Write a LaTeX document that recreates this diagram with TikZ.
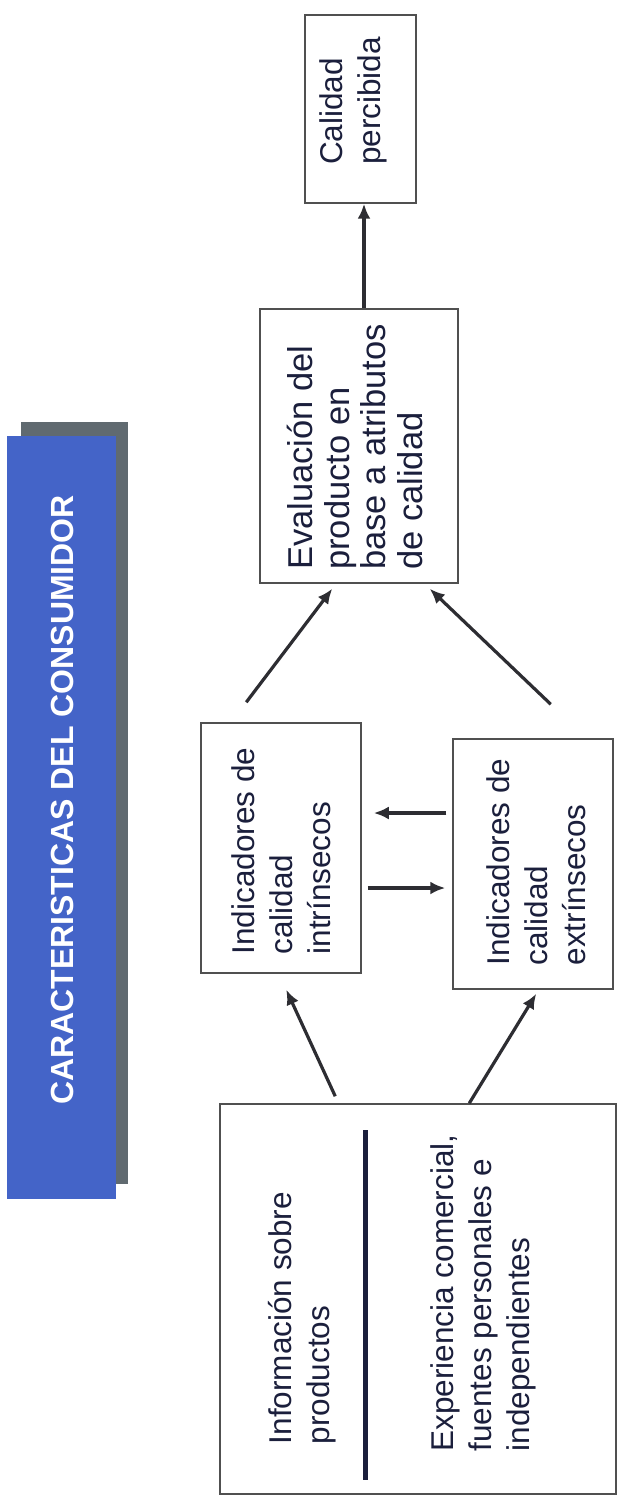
\documentclass[tikz,border=0pt]{standalone}
\usepackage{fontspec}
\setmainfont{Liberation Sans}
\usetikzlibrary{arrows.meta}
\definecolor{inkblue}{RGB}{27,31,60}
\definecolor{boxline}{RGB}{80,80,80}
\definecolor{arrowgray}{RGB}{45,45,50}
\definecolor{bannerblue}{RGB}{68,100,200}
\definecolor{bannershade}{RGB}{96,106,112}
\tikzset{
  frame/.style={draw=boxline, line width=1.5pt, fill=white, inner sep=0pt},
  label/.style={text=inkblue, rotate=90, align=left, inner sep=0pt,
    font=\fontsize{31.5}{38}\selectfont},
  bigl/.style={label, font=\fontsize{34.5}{36.5}\selectfont},
  conn/.style={draw=arrowgray, line width=3.2pt,
    -{Latex[length=15pt,width=13pt]}},
}
\begin{document}
\begin{tikzpicture}[x=1pt,y=-1pt]
\path[use as bounding box, fill=white] (0,0) rectangle (621,1503);

% side banner with its shadow
\node[fill=bannershade, minimum width=107pt, minimum height=762pt, inner sep=0pt] (shade) at (74.5,803) {};
\node[fill=bannerblue, minimum width=109pt, minimum height=763pt, inner sep=0pt] (banner) at (61.5,817.5) {};
\node[text=white, rotate=90, inner sep=0pt, font=\bfseries\fontsize{32}{36}\selectfont] (bannertext) at (62,800) {CARACTERISTICAS DEL CONSUMIDOR};

% boxes
\node[frame, minimum width=111pt, minimum height=188pt] (cal) at (360.5,109) {};
\node[frame, minimum width=198pt, minimum height=274pt] (eval) at (359,446) {};
\node[frame, minimum width=160pt, minimum height=250pt] (intr) at (281,848) {};
\node[frame, minimum width=160pt, minimum height=250pt] (extr) at (533,864) {};
\node[frame, minimum width=396pt, minimum height=390pt] (info) at (418,1299) {};

% box texts
\node[label] (calT) at (353,101) {Calidad\\percibida};
\node[bigl] (evalT) at (355,447) {Evaluación del\\producto en\\base a atributos\\de calidad};
\node[label] (intrT) at (281,851) {Indicadores de\\calidad\\intrínsecos};
\node[label] (extrT) at (536,862) {Indicadores de\\calidad\\extrínsecos};
\node[label] (infoA) at (302,1318) {Información sobre\\productos};
\node[label] (infoB) at (483,1293) {Experiencia comercial,\\fuentes personales e\\independientes};

% divider inside the information box
\coordinate (divtop) at (365,1130);
\coordinate (divbot) at (365,1480);
\draw[draw=inkblue, line width=5pt] (divtop) -- (divbot);

% connectors
\draw[conn] ([xshift=5pt]eval.north) -- ([xshift=5pt]eval.north |- cal.south);
\draw[conn] ([xshift=46pt,yshift=20pt]intr.north west) -- ([xshift=73pt,yshift=-5pt]eval.south west);
\draw[conn] ([xshift=-63pt,yshift=34pt]extr.north east) -- ([xshift=-29pt,yshift=-5pt]eval.south east);
\draw[conn] ([xshift=-6pt,yshift=51pt]extr.west) -- ([xshift=12pt,yshift=35pt]intr.east);
\draw[conn] ([xshift=6pt,yshift=-40pt]intr.east) -- ([xshift=-7pt,yshift=-24pt]extr.west);
\draw[conn] ([xshift=116pt,yshift=7pt]info.north west) -- ([xshift=86pt,yshift=-16pt]intr.south west);
\draw[conn] ([xshift=250pt]info.north west) -- ([xshift=84pt,yshift=-4pt]extr.south west);
\end{tikzpicture}
\end{document}
